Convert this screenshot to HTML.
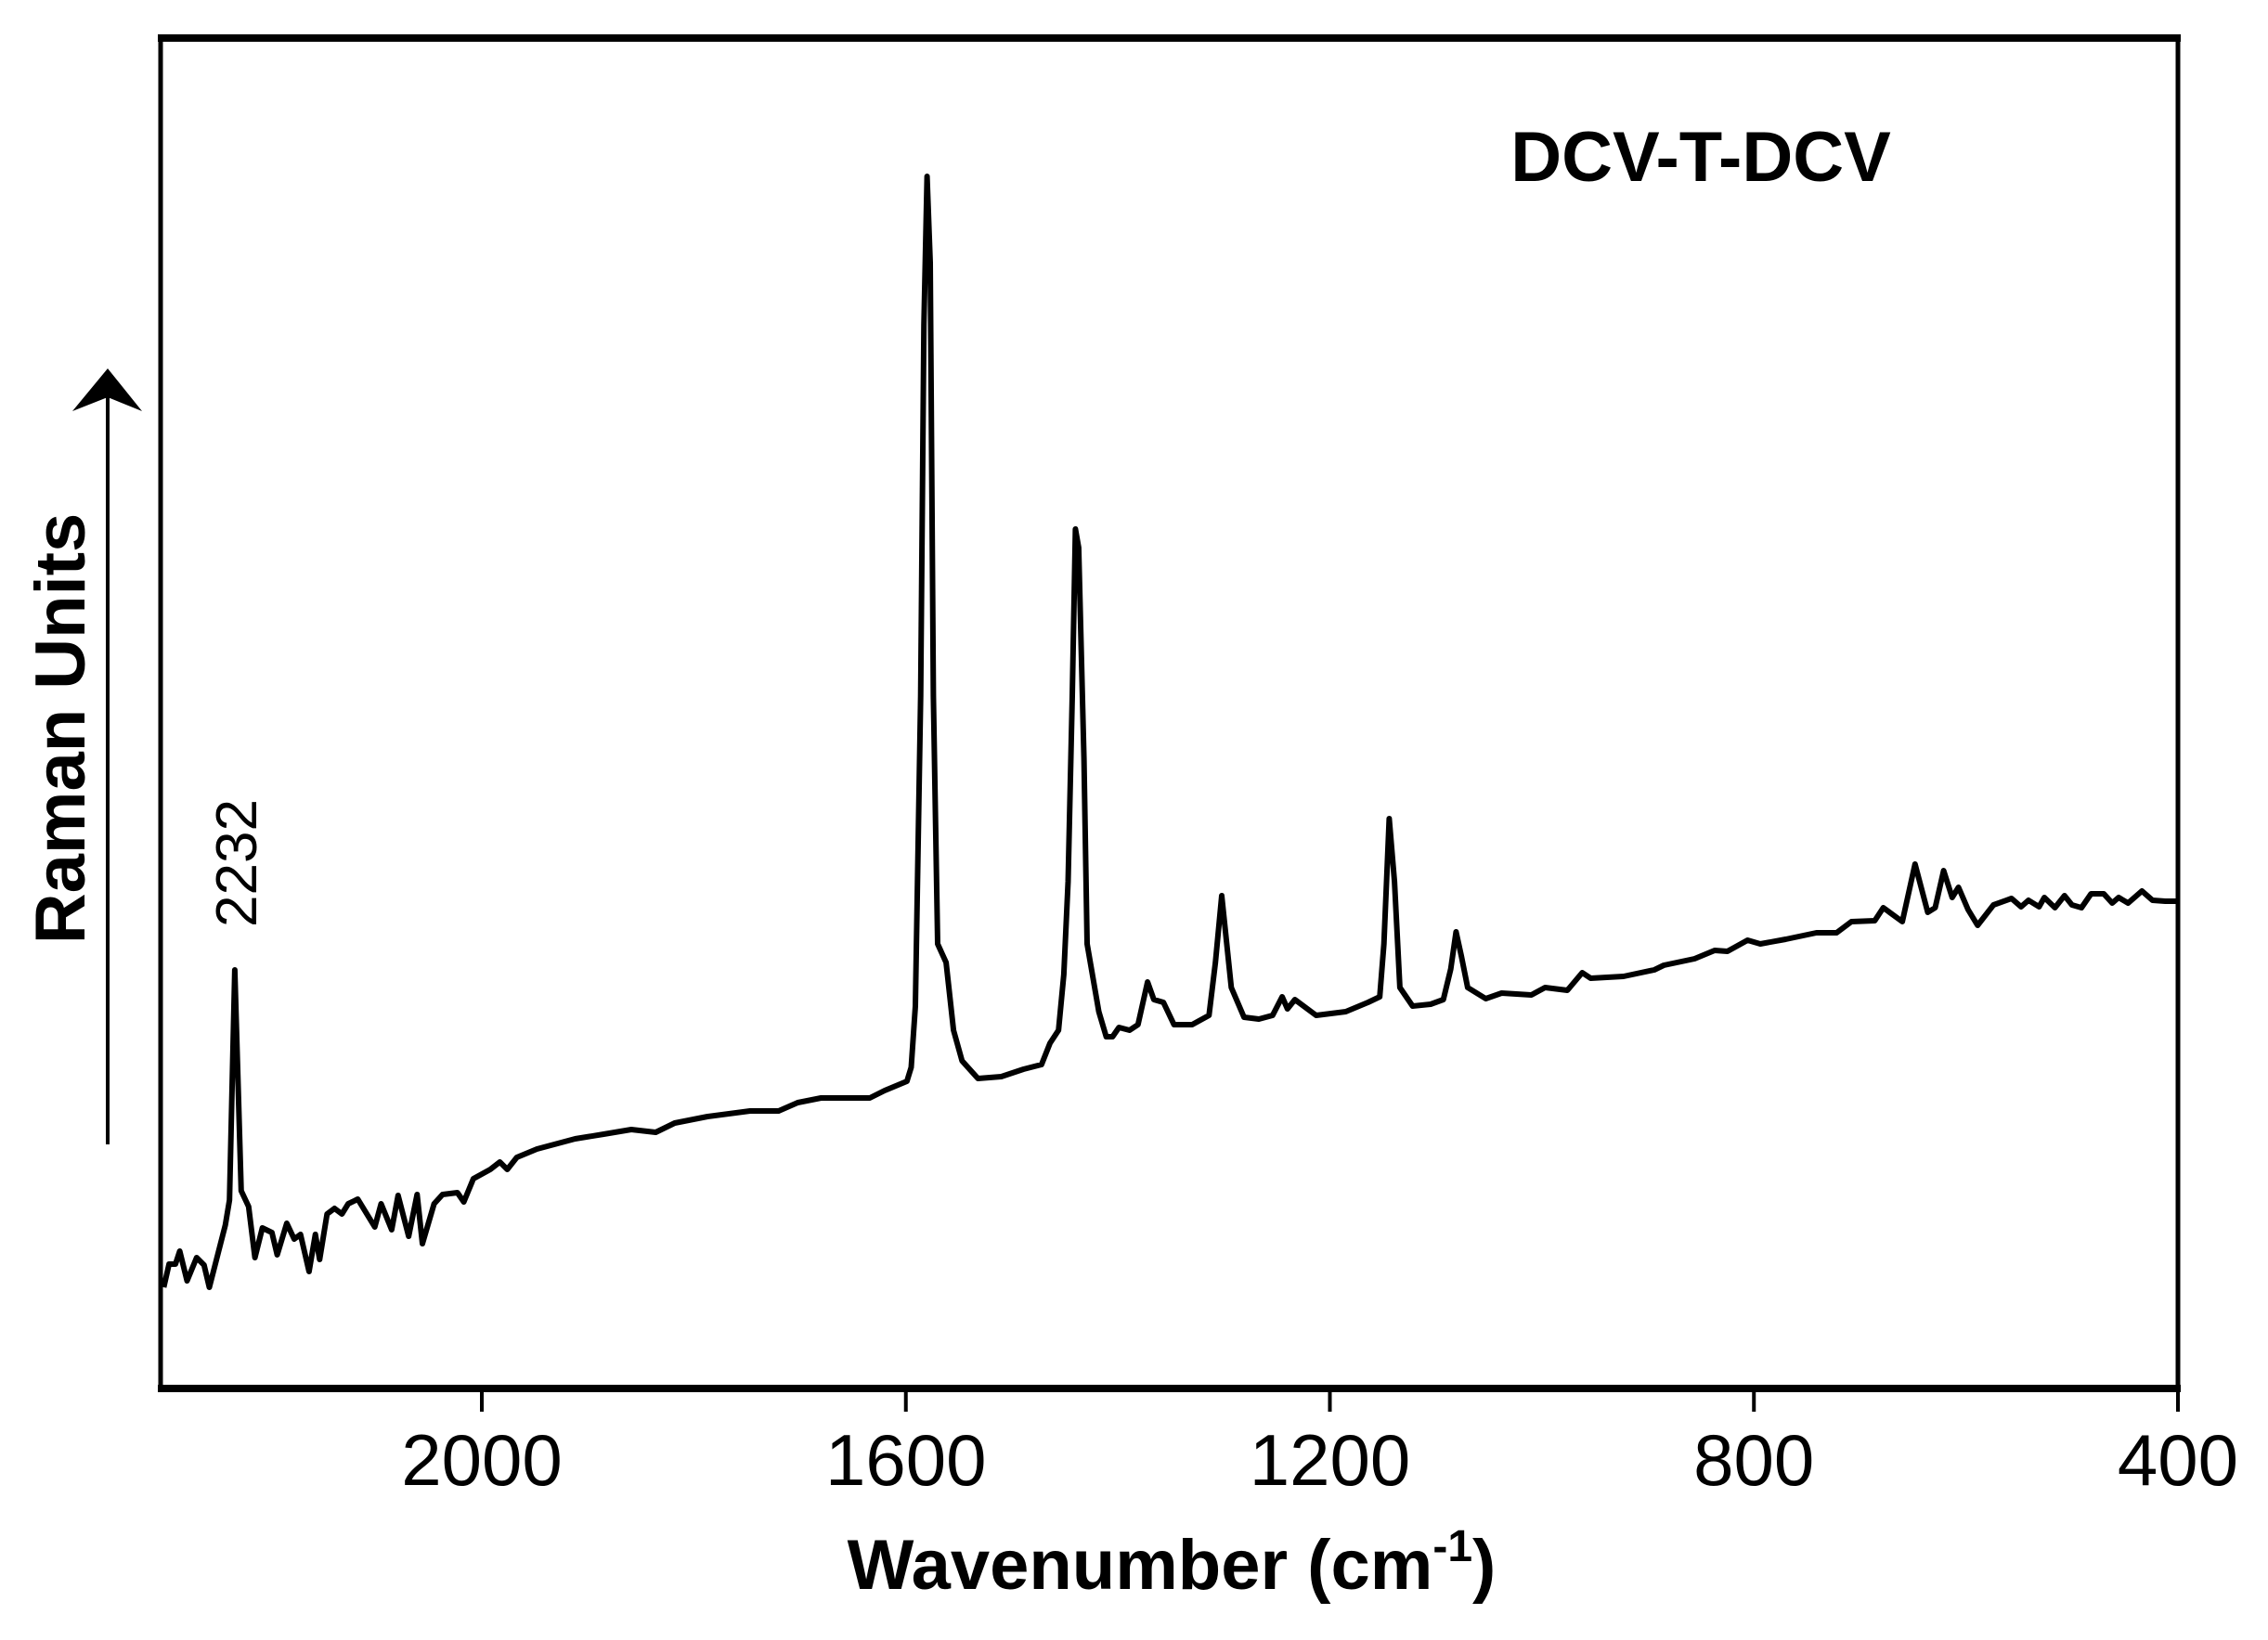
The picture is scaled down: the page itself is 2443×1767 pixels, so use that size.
<!DOCTYPE html>
<html><head><meta charset="utf-8"><style>
html,body{margin:0;padding:0;background:#fff;}
svg{display:block;}
text{font-family:"Liberation Sans",Arial,sans-serif;fill:#000;}
</style></head>
<body>
<svg id="chart" width="2443" height="1767" viewBox="0 0 2443 1767" xmlns="http://www.w3.org/2000/svg">
<rect x="0" y="0" width="2443" height="1767" fill="#fff"/>
<g id="plot"></g>
<g id="frame">
  <line x1="170" y1="41" x2="2349" y2="41" stroke="#000" stroke-width="8"/>
  <line x1="170" y1="1496" x2="2349" y2="1496" stroke="#000" stroke-width="8"/>
  <line x1="173" y1="38" x2="173" y2="1500" stroke="#000" stroke-width="5"/>
  <line x1="2346" y1="38" x2="2346" y2="1500" stroke="#000" stroke-width="5"/>
</g>
<g id="xticks"></g>
<text x="1262" y="1712" font-size="76" font-weight="bold" text-anchor="middle">Wavenumber (cm<tspan dy="-30" font-size="48">-1</tspan><tspan dy="30">)</tspan></text>
<text transform="translate(91,785) rotate(-90)" font-size="76" font-weight="bold" text-anchor="middle">Raman Units</text>
<g>
  <line x1="116" y1="1233" x2="116" y2="420" stroke="#000" stroke-width="4"/>
  <polygon points="116,397 78,443 116,428 153,443" fill="#000"/>
</g>
<text x="1832" y="195" font-size="76" font-weight="bold" text-anchor="middle">DCV-T-DCV</text>
<text transform="translate(276,930) rotate(-90)" font-size="62" text-anchor="middle">2232</text>
</svg>
<script>
const wavenumbers = [2300,2295,2289,2285,2278,2269,2262,2257,2242,2238,2233,2227,2220,2214,2207,2198,2193,2184,2177,2171,2163,2157,2153,2146,2139,2132,2126,2117,2101,2095,2085,2079,2069,2061,2056,2045,2037,2023,2017,2008,1992,1983,1976,1967,1948,1912,1885,1859,1836,1818,1787,1747,1720,1702,1680,1634,1620,1599,
1595,1591,1586,1583,1580,1577,1574,1570,1562,1555,1547,1532,1510,1489,1472,1464,1456,1451,1447,1443,1440,1437,1432,1429,1418,1411,1405,1399,1389,1381,1372,1366,1357,1347,1330,1314,1308,1302,1293,1281,1267,1254,1245,1240,1233,1213,1185,1164,1153,1149,1144,1139,1134,1122,1105,1093,1086,1081,1076,1070,1053,1038,1010,997,
976,962,954,923,894,885,856,837,825,806,794,770,741,722,708,686,678,660,648,636,629,621,613,607,598,589,574,557,548,541,531,526,516,507,500,491,482,470,462,456,447,434,424,412,400];
const intensities = [113,138,138,152,120,145,137,113,180,207,455,217,200,145,177,172,148,182,165,170,130,170,143,192,198,192,203,208,178,203,175,212,168,213,160,203,213,215,205,230,240,248,240,253,262,273,278,283,280,290,297,303,303,312,317,317,325,335,
350,416,750,1150,1310,1217,750,483,463,390,357,338,340,348,353,376,390,450,550,750,930,910,683,483,410,383,383,393,390,396,442,423,420,396,396,406,463,535,436,404,402,406,426,413,423,406,410,420,426,483,618,550,436,416,418,423,456,496,470,436,424,430,428,436,
433,452,446,448,455,460,467,476,475,487,483,488,495,495,507,508,522,507,569,517,522,562,533,544,520,503,525,532,523,530,523,533,522,535,525,522,537,537,527,533,527,540,530,529,529];
const xTickValues = [2000,1600,1200,800,400];
const xTickLabels = ["2000","1600","1200","800","400"];

const X0 = 173, X1 = 2346, WN_LEFT = 2303, WN_RIGHT = 400;
const Y0 = 1500, Y1 = 40, I_MIN = 0, I_MAX = 1460;
function xScale(w){ return X0 + (WN_LEFT - w) / (WN_LEFT - WN_RIGHT) * (X1 - X0); }
function yScale(v){ return Y0 - (v - I_MIN) / (I_MAX - I_MIN) * (Y0 - Y1); }
const NS = "http://www.w3.org/2000/svg";
const plot = document.getElementById('plot');
let d = "";
for (let i = 0; i < wavenumbers.length; i++) {
  d += (i ? "L" : "M") + xScale(wavenumbers[i]).toFixed(1) + "," + yScale(intensities[i]).toFixed(1);
}
const path = document.createElementNS(NS, 'path');
path.setAttribute('d', d);
path.setAttribute('fill', 'none');
path.setAttribute('stroke', '#000');
path.setAttribute('stroke-width', '6');
path.setAttribute('stroke-linejoin', 'round');


plot.appendChild(path);

const xt = document.getElementById('xticks');
xTickValues.forEach((v, i) => {
  const x = xScale(v);
  const t = document.createElementNS(NS, 'line');
  t.setAttribute('x1', x); t.setAttribute('x2', x);
  t.setAttribute('y1', 1496); t.setAttribute('y2', 1521);
  t.setAttribute('stroke', '#000'); t.setAttribute('stroke-width', '4');
  
  
  xt.appendChild(t);
  const lb = document.createElementNS(NS, 'text');
  lb.setAttribute('x', x); lb.setAttribute('y', 1600);
  lb.setAttribute('font-size', '78');
  lb.setAttribute('text-anchor', 'middle');
  lb.textContent = xTickLabels[i];
  
  
  xt.appendChild(lb);
});
</script>
</body></html>
